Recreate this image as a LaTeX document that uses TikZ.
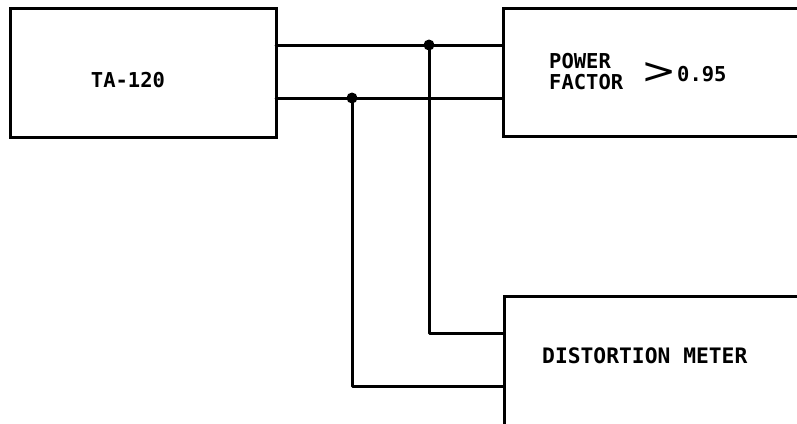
\documentclass[tikz,border=0pt]{standalone}
\usepackage{fontspec}
\setmonofont{DejaVu Sans Mono}
\newfontfamily\gtfont{DejaVu Sans}
\begin{document}
\begin{tikzpicture}[x=1pt,y=-1pt,
  blk/.style={draw,line width=3pt,rectangle,inner sep=0pt,outer sep=0pt},
  wire/.style={line width=3pt,line cap=round,line join=round},
  lbl/.style={font=\fontsize{20.5}{22}\selectfont\ttfamily\bfseries,inner sep=0pt},
  dot/.style={circle,fill=black,inner sep=0pt,minimum size=11pt}]
\useasboundingbox (0,0) rectangle (797,423);
\clip (0,0) rectangle (797,423);
\node[blk,anchor=north west,minimum width=266pt,minimum height=129pt] (ta) at (10,8) {};
\node[blk,anchor=north west,minimum width=320pt,minimum height=128pt] (pf) at (503,8) {};
\node[blk,anchor=north west,minimum width=320pt,minimum height=160pt] (dm) at (504,296) {};
\node[lbl] (tat) at (128,80) {TA-120};
\node[lbl,anchor=west,align=left] (pft) at (549,72) {POWER\\[-1pt]FACTOR};
\node[inner sep=0pt,font=\gtfont\fontsize{30}{30}\selectfont] (gt) at (659,73) {\scalebox{1.4}[1.2]{>}};
\node[lbl,anchor=west] (val) at (677,74) {0.95};
\node[lbl,font=\fontsize{21.3}{22}\selectfont\ttfamily\bfseries,anchor=west] (dmt) at (542,356) {DISTORTION METER};
\coordinate (t1) at (0,45);
\coordinate (t2) at (0,98);
\coordinate (d1) at (0,333);
\coordinate (d2) at (0,386);
\node[dot] (j1) at (429,45) {};
\node[dot] (j2) at (352,98) {};
\draw[wire] (ta.east|-t1) -- (pf.west|-t1);
\draw[wire] (ta.east|-t2) -- (pf.west|-t2);
\draw[wire] (j1.center) |- (dm.west|-d1);
\draw[wire] (j2.center) |- (dm.west|-d2);
\end{tikzpicture}
\end{document}
